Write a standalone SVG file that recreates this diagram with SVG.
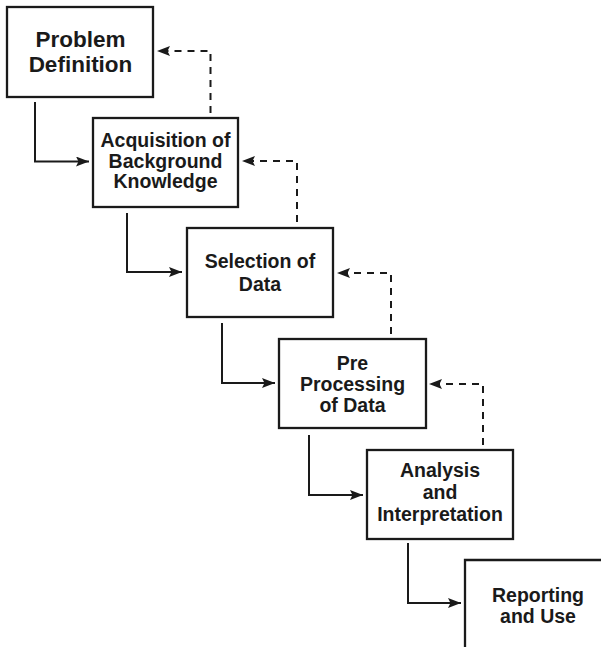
<svg xmlns="http://www.w3.org/2000/svg" width="601" height="647" viewBox="0 0 601 647">
  <style>
    .box { fill: #ffffff; stroke: #1a1a1a; stroke-width: 2.3; }
    .lbl { font-family: "Liberation Sans", Arial, sans-serif; font-weight: bold; fill: #1a1a1a; text-anchor: middle; }
    .flow { fill: none; stroke: #1a1a1a; stroke-width: 2; }
    .back { fill: none; stroke: #1a1a1a; stroke-width: 2; stroke-dasharray: 7 6; }
  </style>
  <defs>
    <marker id="head" markerUnits="userSpaceOnUse" markerWidth="14" markerHeight="11" refX="13" refY="5" orient="auto">
      <path d="M0,0 L13,5 L0,10 L2.5,5 Z" fill="#1a1a1a"/>
    </marker>
  </defs>
  <rect width="601" height="647" fill="#ffffff"/>

  <g id="connectors">
    <!-- forward flow -->
    <path class="flow" d="M35,102 V161.5 H89" marker-end="url(#head)"/>
    <path class="flow" d="M127,213 V272 H182" marker-end="url(#head)"/>
    <path class="flow" d="M222,323 V383 H275" marker-end="url(#head)"/>
    <path class="flow" d="M309,435 V495 H363" marker-end="url(#head)"/>
    <path class="flow" d="M408,543 V603 H461" marker-end="url(#head)"/>
    <!-- feedback loops -->
    <path class="back" d="M210.5,113 V51 H157" marker-end="url(#head)"/>
    <path class="back" d="M297,222 V161 H242" marker-end="url(#head)"/>
    <path class="back" d="M391,334 V273 H337" marker-end="url(#head)"/>
    <path class="back" d="M483,445 V384 H429" marker-end="url(#head)"/>
  </g>

  <g id="problem-definition">
    <rect class="box" x="7" y="7" width="146" height="90"/>
    <text class="lbl" font-size="22.5" x="80.5" y="47">Problem</text>
    <text class="lbl" font-size="22.5" x="80.5" y="72">Definition</text>
  </g>

  <g id="background-knowledge">
    <rect class="box" x="93" y="118" width="145" height="89"/>
    <text class="lbl" font-size="19.5" x="165.5" y="147">Acquisition of</text>
    <text class="lbl" font-size="19.5" x="165.5" y="168">Background</text>
    <text class="lbl" font-size="19.5" x="165.5" y="188">Knowledge</text>
  </g>

  <g id="selection">
    <rect class="box" x="187" y="228" width="146" height="89"/>
    <text class="lbl" font-size="19.5" x="260" y="268">Selection of</text>
    <text class="lbl" font-size="19.5" x="260" y="291">Data</text>
  </g>

  <g id="preprocessing">
    <rect class="box" x="279" y="339" width="147" height="89"/>
    <text class="lbl" font-size="19.5" x="352.5" y="370">Pre</text>
    <text class="lbl" font-size="19.5" x="352.5" y="391">Processing</text>
    <text class="lbl" font-size="19.5" x="352.5" y="412">of Data</text>
  </g>

  <g id="analysis">
    <rect class="box" x="367" y="450" width="146" height="89"/>
    <text class="lbl" font-size="19.5" x="440" y="477">Analysis</text>
    <text class="lbl" font-size="19.5" x="440" y="499">and</text>
    <text class="lbl" font-size="19.5" x="440" y="521">Interpretation</text>
  </g>

  <g id="reporting">
    <path class="box" d="M465,648 V560 H602" fill="none"/>
    <text class="lbl" font-size="19.5" x="538" y="602">Reporting</text>
    <text class="lbl" font-size="19.5" x="538" y="623">and Use</text>
  </g>
</svg>
